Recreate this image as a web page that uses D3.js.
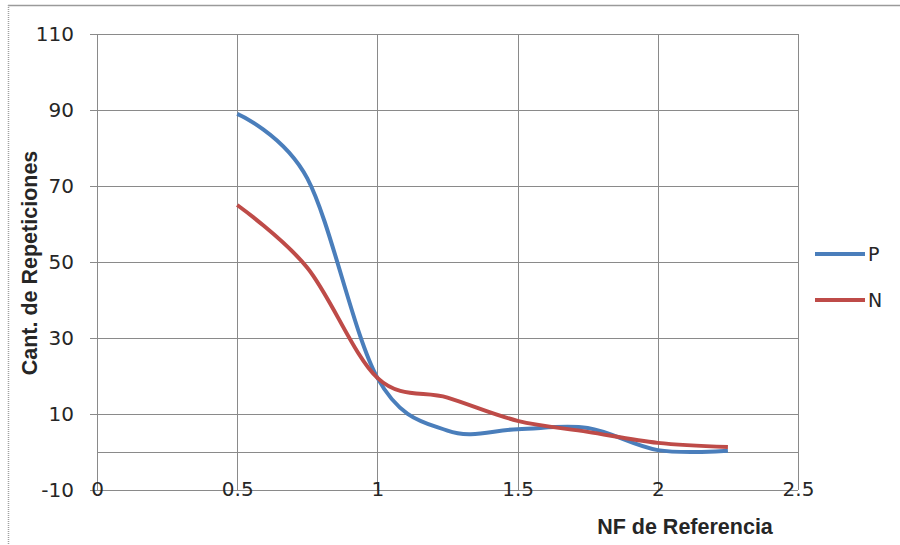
<!DOCTYPE html>
<html>
<head>
<meta charset="utf-8">
<script src="https://cdn.jsdelivr.net/npm/d3@7"></script>
<style>
  html, body { margin: 0; padding: 0; background: #fff; }
  svg { display: block; }
</style>
</head>
<body>
<svg id="chart" width="900" height="545"></svg>
<script>
// ---- data ----
const xValues = [0.5, 0.75, 1, 1.25, 1.5, 1.75, 2, 2.25];
const seriesP = [89, 72, 19.5, 5.6, 6, 6.3, 0.5, 0.3];
const seriesN = [65, 48.5, 19.5, 14.3, 8.2, 5.3, 2.4, 1.3];
const seriesNames = ["P", "N"];
const seriesColors = ["#4a7ebb", "#be4b48"];
const yTicks = [-10, 10, 30, 50, 70, 90, 110];
const xTicks = [0, 0.5, 1, 1.5, 2, 2.5];
const xTitle = "NF de Referencia";
const yTitle = "Cant. de Repeticiones";

// ---- layout ----
const svg = d3.select("#chart");
const x = d3.scaleLinear().domain([0, 2.5]).range([97, 798]);
const y = d3.scaleLinear().domain([-10, 110]).range([490, 34]);
const grid = "#8a8a8a";
const tickFont = "'DejaVu Sans', sans-serif";
const titleFont = "'Liberation Sans', Arial, sans-serif";
const textColor = "#262626";

// outer chart frame (top & left)
svg.append("line").attr("x1", 8).attr("x2", 900).attr("y1", 5.5).attr("y2", 5.5)
  .attr("stroke", "#9a9a9a").attr("stroke-width", 1.5);
svg.append("line").attr("x1", 8.5).attr("x2", 8.5).attr("y1", 5).attr("y2", 545)
  .attr("stroke", "#a0a0a0").attr("stroke-width", 1.5).attr("stroke-dasharray", "1,1");

// y axis ticks + labels
const yAxis = d3.axisLeft(y).tickValues(yTicks).tickSize(7).tickPadding(16)
  .tickFormat(d => String(d));
const gy = svg.append("g").attr("transform", `translate(${x(0)},0)`).call(yAxis);
gy.select(".domain").remove();
gy.selectAll(".tick line").attr("stroke", grid);
gy.selectAll(".tick text").style("font-size", "20px").style("fill", textColor)
  .style("font-family", tickFont);

// horizontal gridlines
svg.append("g").selectAll("line").data(yTicks).join("line")
  .attr("x1", x(0)).attr("x2", x(2.5))
  .attr("y1", d => Math.round(y(d)) + 0.5).attr("y2", d => Math.round(y(d)) + 0.5)
  .attr("stroke", grid).attr("stroke-width", 1);
// zero line (horizontal axis)
svg.append("line").attr("x1", x(0)).attr("x2", x(2.5))
  .attr("y1", Math.round(y(0)) + 0.5).attr("y2", Math.round(y(0)) + 0.5)
  .attr("stroke", grid).attr("stroke-width", 1.2);

// vertical gridlines
svg.append("g").selectAll("line").data(xTicks).join("line")
  .attr("x1", d => Math.round(x(d)) + 0.5).attr("x2", d => Math.round(x(d)) + 0.5)
  .attr("y1", y(110)).attr("y2", y(-10))
  .attr("stroke", grid).attr("stroke-width", 1);

// x tick labels
const xAxis = d3.axisBottom(x).tickValues(xTicks).tickSize(0).tickPadding(0)
  .tickFormat(d => String(d));
const gx = svg.append("g").attr("transform", `translate(0,${y(-10) - 8})`).call(xAxis);
gx.select(".domain").remove();
gx.selectAll(".tick text").style("font-size", "20px").style("fill", textColor)
  .style("font-family", tickFont);

// lines
const line = d3.line().curve(d3.curveCardinal.tension(0))
  .x((d, i) => x(xValues[i])).y(d => y(d));
[seriesP, seriesN].forEach((s, i) => {
  svg.append("path").datum(s).attr("d", line).attr("fill", "none")
    .attr("stroke", seriesColors[i]).attr("stroke-width", 4)
    .attr("stroke-linejoin", "round");
});

// legend
const leg = svg.append("g");
seriesNames.forEach((n, i) => {
  const ly = 254 + i * 46;
  leg.append("line").attr("x1", 815).attr("x2", 865).attr("y1", ly).attr("y2", ly)
    .attr("stroke", seriesColors[i]).attr("stroke-width", 4);
  leg.append("text").attr("x", 868).attr("y", ly + 7)
    .style("font-size", "19px").style("font-family", tickFont).style("fill", textColor)
    .text(n);
});

// axis titles
svg.append("text").attr("x", 685).attr("y", 534).attr("text-anchor", "middle")
  .style("font-family", titleFont).style("fill", textColor)
  .style("font-size", "21.5px").style("font-weight", "bold").text(xTitle);
svg.append("text").attr("transform", "translate(37,263) rotate(-90)")
  .attr("text-anchor", "middle").style("font-family", titleFont).style("fill", textColor)
  .style("font-size", "21.5px").style("font-weight", "bold")
  .text(yTitle);
</script>
</body>
</html>
